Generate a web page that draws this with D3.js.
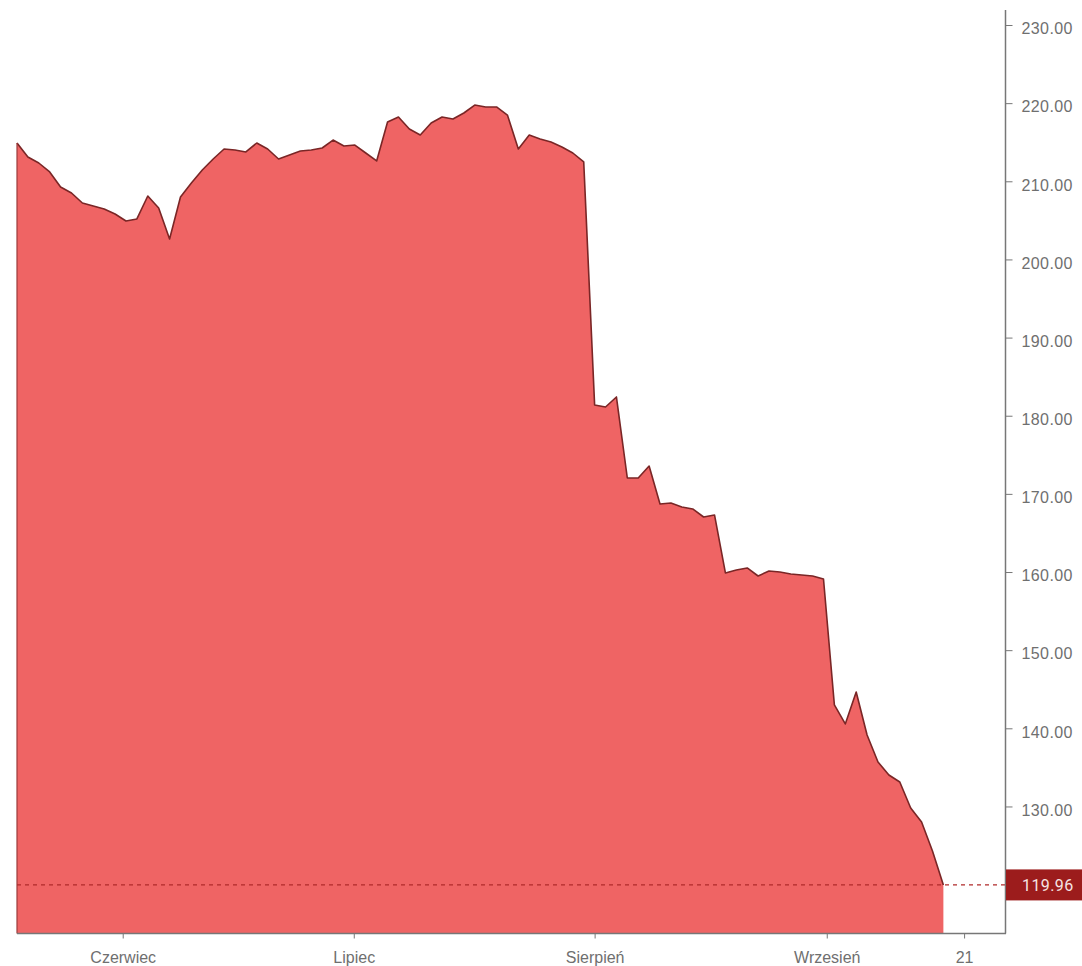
<!DOCTYPE html>
<html>
<head>
<meta charset="utf-8">
<script src="https://cdn.jsdelivr.net/npm/d3@7"></script>
<style>
  body { margin: 0; background: #fff; }
  svg { display: block; font-family: Roboto, 'Noto Sans', sans-serif; }
</style>
</head>
<body>
<div id="app"></div>
<script>
(function (d3) {

  'use strict'

  // closing prices, one per trading session
  const prices = [
    214.90, 213.11, 212.34, 211.19, 209.27, 208.50, 207.22, 206.84, 206.46, 205.82,
    204.92, 205.18, 208.12, 206.58, 202.62, 207.99, 209.78, 211.45, 212.85, 214.13,
    214.00, 213.75, 214.90, 214.13, 212.85, 213.37, 213.88, 214.00, 214.26, 215.28,
    214.52, 214.64, 213.62, 212.60, 217.59, 218.23, 216.69, 215.92, 217.46, 218.23,
    217.97, 218.74, 219.76, 219.51, 219.51, 218.48, 214.13, 215.92, 215.41, 215.03,
    214.39, 213.62, 212.47, 181.38, 181.12, 182.40, 172.03, 172.03, 173.57, 168.71,
    168.84, 168.32, 168.07, 167.04, 167.30, 159.88, 160.26, 160.52, 159.49, 160.13,
    160.00, 159.75, 159.62, 159.49, 159.11, 142.99, 140.56, 144.65, 139.15, 135.69,
    134.03, 133.13, 129.81, 128.02, 124.30, 119.96
  ]
  const lastPrice = 119.96

  // month ticks, placed on the session index
  const xTickLabels = ['Czerwiec', 'Lipiec', 'Sierpień', 'Wrzesień', '21']
  const xTickIndex = [9.7, 30.9, 53.0, 74.3, 86.9]
  const yTicks = [130, 140, 150, 160, 170, 180, 190, 200, 210, 220, 230]

  const w = 1082
  const h = 966
  const left = 17
  const right = 1005.5
  const bottom = 933.5
  const grey = '#6f6f6f'

  const svg = d3.select('#app')
    .append('svg')
    .attr('width', w)
    .attr('height', h)

  const xScale = d3.scaleLinear()
    .domain([0, 90.7])
    .range([left, right])

  const yScale = d3.scaleLinear()
    .domain([120, 230])
    .range([884.6, 25])

  const points = prices.map((p, i) => [i, p])

  // filled area
  const area = d3.area()
    .x(d => xScale(d[0]))
    .y0(bottom)
    .y1(d => yScale(d[1]))

  svg.append('path')
    .datum(points)
    .attr('d', area)
    .attr('fill', '#ef6464')

  // outline of the price
  const line = d3.line()
    .x(d => xScale(d[0]))
    .y(d => yScale(d[1]))

  svg.append('path')
    .datum(points)
    .attr('d', line)
    .attr('fill', 'none')
    .attr('stroke', '#7a2626')
    .attr('stroke-width', 1.6)
    .attr('stroke-linejoin', 'round')

  svg.append('line')
    .attr('x1', xScale(0)).attr('x2', xScale(0))
    .attr('y1', yScale(prices[0])).attr('y2', bottom)
    .attr('stroke', '#9a3b3b')
    .attr('stroke-width', 1.2)

  // last price dashed marker
  svg.append('line')
    .attr('x1', left).attr('x2', right)
    .attr('y1', yScale(lastPrice)).attr('y2', yScale(lastPrice))
    .attr('stroke', '#b02a2a')
    .attr('stroke-width', 1.3)
    .attr('stroke-dasharray', '4,4')

  // frame
  svg.append('line')
    .attr('x1', left).attr('x2', right + 0.5)
    .attr('y1', bottom).attr('y2', bottom)
    .attr('stroke', '#777')
    .attr('stroke-width', 1.5)
  svg.append('line')
    .attr('x1', right).attr('x2', right)
    .attr('y1', 10).attr('y2', bottom)
    .attr('stroke', '#777')
    .attr('stroke-width', 1.5)

  // y axis on the right
  const yAxis = d3.axisRight(yScale)
    .tickValues(yTicks)
    .tickSize(7)
    .tickFormat(d3.format('.2f'))

  const gy = svg.append('g')
    .attr('transform', 'translate(' + right + ',0)')
    .call(yAxis)
  gy.select('.domain').remove()
  gy.selectAll('line').attr('stroke', '#777')
  gy.selectAll('text')
    .attr('x', 16)
    .attr('dy', '0.55em')
    .attr('fill', grey)
    .style('font-size', '16px')
    .style('letter-spacing', '0.4px')

  // x axis
  const xAxis = d3.axisBottom(xScale)
    .tickValues(xTickIndex)
    .tickSize(5)
    .tickFormat((d, i) => xTickLabels[i])

  const gx = svg.append('g')
    .attr('transform', 'translate(0,' + bottom + ')')
    .call(xAxis)
  gx.select('.domain').remove()
  gx.selectAll('line').attr('stroke', '#777')
  gx.selectAll('text')
    .attr('y', 29)
    .attr('dy', 0)
    .attr('fill', grey)
    .style('font-size', '16px')

  // last price label
  const ly = yScale(lastPrice)
  svg.append('rect')
    .attr('x', right + 0.5)
    .attr('y', ly - 15.5)
    .attr('width', w - right)
    .attr('height', 31)
    .attr('fill', '#9c1c1c')
  svg.append('text')
    .attr('x', 1022)
    .attr('y', ly + 6)
    .attr('fill', '#f6e4e4')
    .style('font-size', '16px')
    .style('letter-spacing', '0.4px')
    .text(d3.format('.2f')(lastPrice))

}(d3))
</script>
</body>
</html>
